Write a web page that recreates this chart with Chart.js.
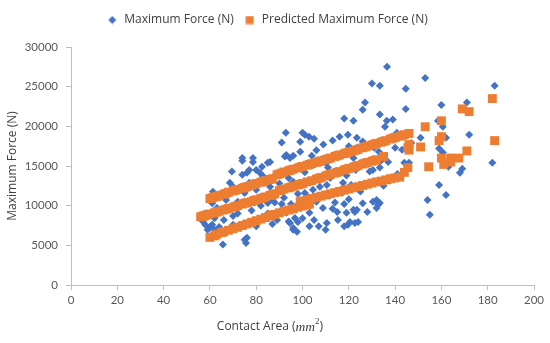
<!DOCTYPE html>
<html><head><meta charset="utf-8">
<script src="https://cdn.jsdelivr.net/npm/chart.js@4.4.1/dist/chart.umd.min.js"></script>
<style>html,body{margin:0;padding:0;background:#fff}#wrap{width:550px;height:343px;position:relative}</style>
</head><body><div id="wrap"><canvas id="c"></canvas></div>
<script>
const xTickValues = [0,20,40,60,80,100,120,140,160,180,200];
const yTickValues = [0,5000,10000,15000,20000,25000,30000];
const seriesNames = ['Maximum Force (N)', 'Predicted Maximum Force (N)'];

// Measured maximum force (blue diamonds)
const areaMeasured = [136.5,130,133.4,144.6,127,126,144.6,118,122,133.4,136.4,139,135.6,140.8,123.5,100,102.8,105,109,113,116,119.6,99,104,123.5,131,133,140,143,130.4,110,111,123,129,153,183,160,171,158.5,160.6,151,162,172,159,147,146,163,182,168,169,159,162,154,155,160.6,133.4,130.4,144,92.8,101,99,91,93,94.6,92.4,85,82.5,78.6,74,69.5,80,81.6,77,76,74,78.6,86,96,74,68.6,70,96,61.3,68.7,60,62,64,59,65.6,75,76,75.6,96,97.6,96,61,59,94.6,96.7,98,90,93,103,108.8,115,119,122,115.3,110.5,110,120.5,124,119.6,122.6,118,132,132.6,130.4,133.4,132,123.5,122.6,104.5,107.5,110.5,101,117.5,121,85,86,61,63,66,70,72,78,82,85,88,89,92,95,98,100,72,75,80,84,86,90,94,64,67,70,73,77,80,83,87,100,102,106,112,114,117,120,125,127,135,138,126,128,112,116,119,106,101,96,88,84,137,141,134,127,122,117,113,108,106,120,126,103,105,113,118,107,94,91,66,73,77,83,62,58,57,58];
const forceMeasured = [27500,25400,25100,24750,23000,22100,22200,21000,20700,21500,20700,20850,19950,19200,18550,19200,18700,18450,17700,18200,18700,18950,16800,16300,17300,17300,16800,17300,17050,15800,15400,14800,14500,14300,26100,25100,22700,23000,20700,19950,18550,18550,18950,17200,17900,15400,14900,15400,14150,14650,12600,11350,10700,8850,16700,14800,14500,15400,19200,18950,18050,17950,16400,16000,16200,15400,14900,15500,15650,14300,14500,14150,14500,14150,16000,16000,15500,16300,13900,12900,12400,13000,11750,11600,7300,6950,7300,8600,5100,5700,5950,5300,7200,6700,6950,7600,6950,7830,8460,7950,9200,9100,9100,9700,9200,9100,9500,8200,7800,6950,7950,7950,7580,7830,7400,10700,10100,10500,10350,9700,9500,9200,12000,12400,12600,11600,12900,12600,10350,10700,10300,9700,8200,7600,9000,9400,10000,9000,10400,8200,11000,10200,11500,10000,10500,11600,12000,11200,12400,12800,13500,9200,10700,8700,7200,8000,7400,8400,7700,8400,11200,10500,11300,10400,11600,10800,11800,12700,12500,13200,10300,9200,13500,14300,13800,13300,14200,14600,13800,13200,15500,14000,15700,15300,16000,16300,16100,15800,17000,17500,18100,7400,8200,9600,10200,7400,8000,10200,11200,12000,12900,13700,8400,9000,8000,7600];

// Predicted maximum force (orange squares)
const areaPredicted = [60,61,62,63,64,66,67,68,70,71,72,74,75,76,78,79,80,82,83,84,86,87,89,90,91,92,94,95,96,98,99,100,102,103,104,106,107,108,110,111,112,114,115,116,118,119,120,122,123,124,126,127,128,130,131,132,134,135,136,138,139,140,142,143,144,146,
56,57,58,59,60,62,63,64,66,67,68,70,71,72,74,75,76,78,79,80,82,83,84,86,87,88,90,91,92,94,95,96,98,99,100,102,104,106,107,108,110,111,112,114,115,116,118,119,120,122,123,124,126,127,128,130,131,132,135,
60,62,63,65,66,68,70,72,74,76,78,80,82,84,86,87,88,90,92,94,96,98,100,102,103,
99,100,102,104,106,108,110,112,114,116,118,120,122,124,126,128,130,132,134,136,138,140,142,
144,145.5,146,146,151,153,154.5,159,160,160,160,161,164,164,167.5,169,171,172,182,183,145.5];
const forcePredicted = [10900,11000,11100,11150,11300,11450,11550,11700,11850,11950,12050,12200,12300,12400,12550,12700,12800,12950,13050,13150,13300,13400,13900,14000,14100,14250,14400,14500,14600,14750,14850,14950,15100,15200,15300,15450,15550,15650,15800,15900,16000,16200,16300,16400,16550,16650,16750,16900,17000,17100,17300,17400,17500,17650,17750,17850,18000,18100,18200,18400,18500,18600,18750,18850,18950,19100,
8600,8700,8800,8850,8950,9100,9200,9300,9450,9550,9650,9800,9900,10000,10200,10300,10400,10500,10650,10750,10900,11000,11100,11300,11400,11500,11900,12000,12100,12250,12350,12450,12600,12700,12800,13000,13150,13350,13450,13550,13750,13850,13950,14100,14200,14300,14500,14600,14700,14850,14950,15050,15250,15350,15450,15600,15700,15800,16200,
6000,6200,6400,6600,6700,6900,7100,7300,7500,7700,7900,8100,8300,8500,8700,8850,8900,9100,9300,9450,9600,9800,9950,10100,10200,
10500,10600,10750,10900,11050,11200,11350,11500,11650,11800,11950,12100,12250,12400,12550,12700,12850,13000,13100,13250,13400,13500,13600,
14200,14800,17000,17700,17400,19950,14900,18200,18700,20700,16000,15200,16000,15500,16000,22200,16900,21850,23500,18200,17300];

const blue = '#4472C4', orange = '#ED7D31';
const toPts = (xs, ys) => xs.map((x, i) => ({x: x, y: ys[i]}));

function marker(kind, color) {
  const c = document.createElement('canvas');
  const s = kind === 'diamond' ? 9 : 9;
  c.width = s; c.height = s;
  const g = c.getContext('2d');
  g.fillStyle = color;
  if (kind === 'diamond') {
    g.beginPath(); g.moveTo(4.5, 0.5); g.lineTo(8.5, 4.5); g.lineTo(4.5, 8.5); g.lineTo(0.5, 4.5); g.closePath(); g.fill();
  } else {
    g.fillRect(0.5, 0.5, 8, 8);
  }
  return c;
}
const legendMarkers = [marker('diamond', blue), marker('square', orange)];

const xTitlePlugin = {
  id: 'xTitle',
  afterDraw(chart) {
    const ctx = chart.ctx;
    const parts = [
      {t: 'Contact Area (', f: '12px "Open Sans"', dy: 0},
      {t: 'mm', f: 'italic 13.5px "Liberation Serif"', dy: 0},
      {t: '2', f: '9px "Liberation Serif"', dy: -5},
      {t: ')', f: '12px "Open Sans"', dy: 0}
    ];
    let total = 0;
    parts.forEach(p => { ctx.font = p.f; p.w = ctx.measureText(p.t).width; total += p.w; });
    let x = 270 - total / 2;
    const y = 327;
    ctx.save();
    ctx.fillStyle = '#404040';
    ctx.textBaseline = 'middle';
    ctx.textAlign = 'left';
    parts.forEach(p => { ctx.font = p.f; ctx.fillText(p.t, x, y + p.dy); x += p.w; });
    ctx.restore();
  }
};

const legendFitPlugin = {
  id: 'legendFit',
  beforeInit(chart) {
    const lg = chart.legend;
    if (!lg) return;
    const orig = lg.fit;
    lg.fit = function () { orig.call(this); this.height = 43; };
  }
};

new Chart(document.getElementById('c'), {
  type: 'scatter',
  data: {
    datasets: [
      {label: seriesNames[0], data: toPts(areaMeasured, forceMeasured), pointStyle: 'rectRot', pointRadius: 4, pointBorderWidth: 0, backgroundColor: blue, borderColor: blue, order: 2},
      {label: seriesNames[1], data: toPts(areaPredicted, forcePredicted), pointStyle: 'rect', pointRadius: 6.3, pointBorderWidth: 0, backgroundColor: orange, borderColor: orange, order: 1}
    ]
  },
  options: {
    responsive: true,
    maintainAspectRatio: false,
    animation: false,
    events: [],
    layout: {padding: {left: 0, right: 16, top: 4, bottom: 0}},
    plugins: {
      tooltip: {enabled: false},
      legend: {
        position: 'top',
        labels: {
          usePointStyle: true,
          padding: 10,
          color: '#404040',
          font: {family: 'Open Sans', size: 12},
          generateLabels(chart) {
            return chart.data.datasets.map((d, i) => ({
              text: d.label, fillStyle: d.backgroundColor, strokeStyle: d.backgroundColor,
              lineWidth: 0, pointStyle: legendMarkers[i], hidden: false, datasetIndex: i, fontColor: '#404040'
            }));
          }
        }
      }
    },
    scales: {
      x: {
        type: 'linear', min: 0, max: 200,
        afterBuildTicks(s) { s.ticks = xTickValues.map(v => ({value: v})); },
        afterFit(s) { s.height = 58; s.paddingLeft = 0; s.paddingRight = 0; },
        grid: {drawOnChartArea: false, drawTicks: true, tickLength: 5, color: '#bfbfbf'},
        border: {color: '#bfbfbf', width: 1},
        ticks: {color: '#595959', font: {family: 'Lato', size: 11.5}, padding: 3, maxRotation: 0}
      },
      y: {
        type: 'linear', min: 0, max: 30000,
        afterBuildTicks(s) { s.ticks = yTickValues.map(v => ({value: v})); },
        afterFit(s) { s.width = 71; s.paddingTop = 0; s.paddingBottom = 0; },
        grid: {drawOnChartArea: false, drawTicks: true, tickLength: 5, color: '#bfbfbf'},
        border: {color: '#bfbfbf', width: 1},
        ticks: {color: '#595959', font: {family: 'Lato', size: 11.5}, padding: 8, callback: v => String(v)},
        title: {display: true, text: seriesNames[0], color: '#404040', font: {family: 'Open Sans', size: 12}, padding: {top: 5, bottom: 0}}
      }
    }
  },
  plugins: [legendFitPlugin, xTitlePlugin]
});
</script>
</body></html>
